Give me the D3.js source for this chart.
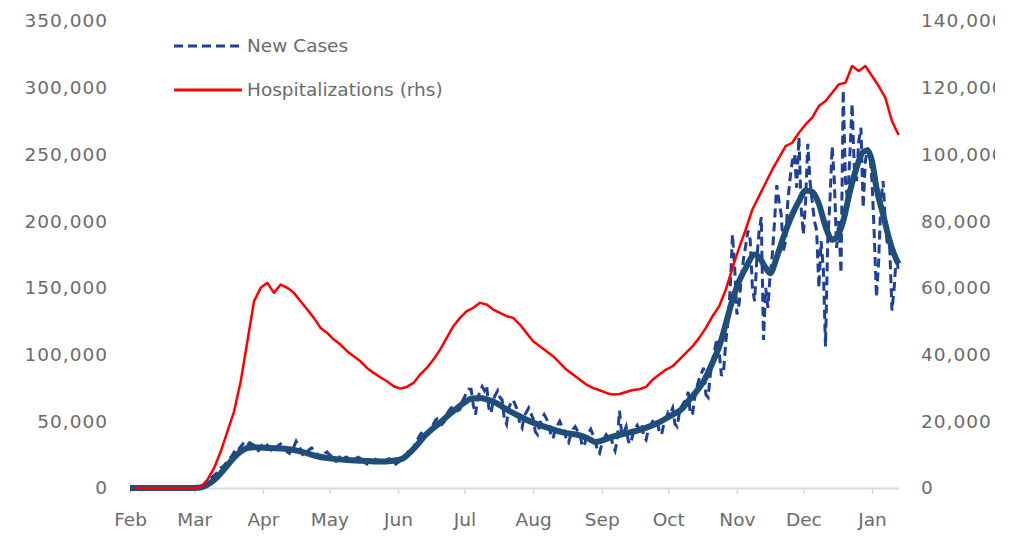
<!DOCTYPE html>
<html>
<head>
<meta charset="utf-8">
<script src="https://cdn.jsdelivr.net/npm/d3@7"></script>
<style>
body { margin: 0; background: #fff; }
text { font-family: "DejaVu Sans", sans-serif; fill: #6b6b6b; }
</style>
</head>
<body>
<main></main>
<script>
var width = 1017;
var height = 537;

// daily new cases, thousands, one value per day from Feb 1 2020
var caseStart = "2020-02-01";
var newCases = [
  0,0,0,0,0,0,0, 0,0,0,0,0,0,0, 0,0,0,0,0,0,0, 0,0,0,0,0,0,0,
  0,0,0.1,0.3,0.8,2,3.5,
  5,6.5,8,9.5,11,13,15,
  16,18,20,22,24,27,30,
  29,31,33,31,32,34,33,
  32,29,28,31,33,34,32,
  30,28,27,30,32,33,31,
  30,27,26,29,31,35,32,
  29,25,24,27,29,30,28,
  27,23,22,24,26,27,25,
  24,21,20,22,24,25,23,
  23,20,19,21,22,23,22,
  22,19,18,21,22,23,21,
  21,18,17,19,21,22,21,
  22,18,19,21,23,24,25,
  29,27,30,35,37,40,42,
  43,40,41,46,48,51,52,
  52,48,50,55,58,60,61,
  62,58,59,65,68,72,74,
  74,62,55,68,72,76,73,
  77,60,56,66,70,73,68,
  66,52,48,60,64,66,62,
  58,48,45,54,57,60,56,
  52,42,40,48,52,55,52,
  48,40,37,44,47,50,46,
  44,36,34,40,44,46,43,
  41,33,31,38,41,44,40,
  36,28,26,33,37,40,38,
  40,32,28,36,58,40,42,
  46,35,33,40,44,47,44,
  48,38,36,44,47,50,49,
  50,42,40,48,52,57,56,
  60,48,46,56,61,64,66,
  72,55,56,68,76,82,86,
  90,70,68,85,96,104,112,
  102,84,88,110,125,150,190,
  165,130,138,158,172,182,193,
  186,150,140,172,192,203,111,
  150,135,160,175,200,227,215,
  205,178,185,215,232,245,250,
  225,263,210,190,215,258,230,
  215,200,193,150,185,165,106,
  185,215,256,230,180,200,161,
  298,230,215,250,288,240,230,
  260,270,210,245,255,250,230,
  190,143,170,215,230,200,180,
  180,133,150,175,161
];

// 7-day average of new cases, thousands, read at these dates
var avgDates = [
  "2020-02-01","2020-02-29","2020-03-03","2020-03-07","2020-03-10","2020-03-14","2020-03-17",
  "2020-03-21","2020-03-25","2020-03-28","2020-04-04","2020-04-11","2020-04-18","2020-04-25",
  "2020-05-02","2020-05-09","2020-05-16","2020-05-23","2020-05-30","2020-06-03","2020-06-06",
  "2020-06-10","2020-06-13","2020-06-17","2020-06-20","2020-06-24","2020-06-27","2020-07-01",
  "2020-07-04","2020-07-08","2020-07-11","2020-07-15","2020-07-18","2020-07-22","2020-07-25",
  "2020-08-01","2020-08-08","2020-08-15","2020-08-22","2020-08-26","2020-08-29","2020-09-01",
  "2020-09-05","2020-09-12","2020-09-19","2020-09-26","2020-10-03","2020-10-07","2020-10-10",
  "2020-10-14","2020-10-17","2020-10-21","2020-10-24","2020-10-27","2020-10-30","2020-11-02",
  "2020-11-05","2020-11-09","2020-11-11","2020-11-14","2020-11-16","2020-11-19","2020-11-22",
  "2020-11-26","2020-11-29","2020-12-02","2020-12-05","2020-12-08","2020-12-11","2020-12-14",
  "2020-12-16","2020-12-19","2020-12-22","2020-12-25","2020-12-28","2020-12-30","2021-01-01",
  "2021-01-03","2021-01-06","2021-01-09","2021-01-11","2021-01-13"
];
var avgCases = [
  0,0,0.1,2.5,6,13,19,
  26,30,30.5,30,29.5,27.5,24,
  22,21,20.5,19.8,20.5,22,26,
  33,39,45,49,55,59,64,
  67,67.5,66.5,64,61,57,54.5,
  49,45,41.5,39.5,37,34.5,35.5,
  38,41,44,48.5,55,59,65,
  73,80,94,106,123,141,155,
  165,175,173,165,161,173,188,
  205,215,223,222,213,196,186,
  188,200,222,240,252,253,245,
  225,205,185,175,168
];

// hospitalizations (rhs), thousands, every 3 days from Feb 3 2020
var hospStart = "2020-02-03";
var hospStep = 3;
var hospitalizations = [
  0,0,0,0,0,0,0,0,0,0,0.3,
  2.5,6,11,17,23,32,44,56,60,61.5,58.5,61,60,58.5,56,53.5,51,48,46.5,
  44.5,43,41,39.5,38,36,34.5,33.2,32,30.5,29.8,30.3,31.5,34,36,38.5,
  41.5,45,48.5,51,53,54,55.5,55,53.5,52.5,51.5,51,49,46.5,44,42.5,
  41,39.5,37.5,35.5,34,32.5,31,30,29.3,28.5,28,28.2,28.8,29.4,29.6,
  30.3,32.5,34,35.5,36.5,38.5,40.5,42.5,45,48,51.5,54.5,59.5,66,72,
  77.5,83.5,87.5,91.5,95.5,99,102.5,103.5,106.5,109,111,114.5,116,
  118.5,121,121.5,126.5,125,126.5,123.5,120.5,117,110,105.8
];

var leftTicks = [0, 50, 100, 150, 200, 250, 300, 350];
var rightTicks = [0, 20, 40, 60, 80, 100, 120, 140];
var monthTicks = ["2020-02-01","2020-03-01","2020-04-01","2020-05-01","2020-06-01","2020-07-01",
  "2020-08-01","2020-09-01","2020-10-01","2020-11-01","2020-12-01","2021-01-01"];
var axisEnd = "2021-01-13";

var parse = d3.utcParse("%Y-%m-%d");
var fmt = d3.format(",");

var svg = d3.select("main").append("svg")
    .attr("width", width)
    .attr("height", height);

var x = d3.scaleUtc()
    .domain([parse(caseStart), parse(axisEnd)])
    .range([130, 898.6]);
var yL = d3.scaleLinear().domain([0, 350]).range([488, 21]);
var yR = d3.scaleLinear().domain([0, 140]).range([488, 21]);

var caseData = newCases.map(function(v, i) {
  return { date: d3.utcDay.offset(parse(caseStart), i), value: v };
});
var avgData = avgDates.map(function(d, i) {
  return { date: parse(d), value: avgCases[i] };
});
var hospData = hospitalizations.map(function(v, i) {
  return { date: d3.utcDay.offset(parse(hospStart), i * hospStep), value: v };
});

// x axis
var xAxis = svg.append("g")
    .attr("transform", "translate(0,488)")
    .call(d3.axisBottom(x)
      .tickValues(monthTicks.map(parse))
      .tickFormat(d3.utcFormat("%b"))
      .tickSize(6)
      .tickSizeOuter(0)
      .tickPadding(19));
xAxis.select(".domain").attr("stroke", "#d9d9d9").attr("stroke-width", 2);
xAxis.selectAll(".tick line").attr("stroke", "#d9d9d9").attr("stroke-width", 1.5);
xAxis.selectAll("text").style("font-size", "18.5px");

// left axis
var leftAxis = svg.append("g")
    .attr("transform", "translate(108,0)")
    .call(d3.axisLeft(yL)
      .tickValues(leftTicks)
      .tickFormat(function(d) { return fmt(d * 1000); })
      .tickSize(0)
      .tickPadding(0));
leftAxis.select(".domain").remove();
leftAxis.selectAll("text").style("font-size", "18.5px").style("letter-spacing", "1px");

// right axis, cut by the picture's edge
svg.append("clipPath").attr("id", "edge")
  .append("rect").attr("x", 0).attr("y", 0).attr("width", 995).attr("height", height);
var rightAxis = svg.append("g")
    .attr("clip-path", "url(#edge)")
  .append("g")
    .attr("transform", "translate(921,0)")
    .call(d3.axisRight(yR)
      .tickValues(rightTicks)
      .tickFormat(function(d) { return fmt(d * 1000); })
      .tickSize(0)
      .tickPadding(0));
rightAxis.select(".domain").remove();
rightAxis.selectAll("text").style("font-size", "18.5px").style("letter-spacing", "1px");

// series
var caseLine = d3.line()
    .x(function(d) { return x(d.date); })
    .y(function(d) { return yL(d.value); });
var avgLine = d3.line()
    .curve(d3.curveMonotoneX)
    .x(function(d) { return x(d.date); })
    .y(function(d) { return yL(d.value); });
var hospLine = d3.line()
    .x(function(d) { return x(d.date); })
    .y(function(d) { return yR(d.value); });

svg.append("path")
    .datum(caseData)
    .attr("d", caseLine)
    .attr("fill", "none")
    .attr("stroke", "#1f3f98")
    .attr("stroke-width", 3)
    .attr("stroke-dasharray", "9,5");

svg.append("path")
    .datum(avgData)
    .attr("d", avgLine)
    .attr("fill", "none")
    .attr("stroke", "#1f4e79")
    .attr("stroke-width", 6)
    .attr("stroke-linejoin", "round");

svg.append("path")
    .datum(hospData)
    .attr("d", hospLine)
    .attr("fill", "none")
    .attr("stroke", "#ff0000")
    .attr("stroke-width", 2.5)
    .attr("stroke-linejoin", "round");

// legend
var legend = svg.append("g");
legend.append("line")
    .attr("x1", 174).attr("x2", 242).attr("y1", 46).attr("y2", 46)
    .attr("stroke", "#1f3f98").attr("stroke-width", 3).attr("stroke-dasharray", "9,5");
legend.append("text")
    .attr("x", 247).attr("y", 46).attr("dy", "0.35em")
    .style("font-size", "18.5px")
    .text("New Cases");
legend.append("line")
    .attr("x1", 174).attr("x2", 242).attr("y1", 90).attr("y2", 90)
    .attr("stroke", "#ff0000").attr("stroke-width", 3);
legend.append("text")
    .attr("x", 247).attr("y", 90).attr("dy", "0.35em")
    .style("font-size", "18.5px")
    .text("Hospitalizations (rhs)");
</script>
</body>
</html>
